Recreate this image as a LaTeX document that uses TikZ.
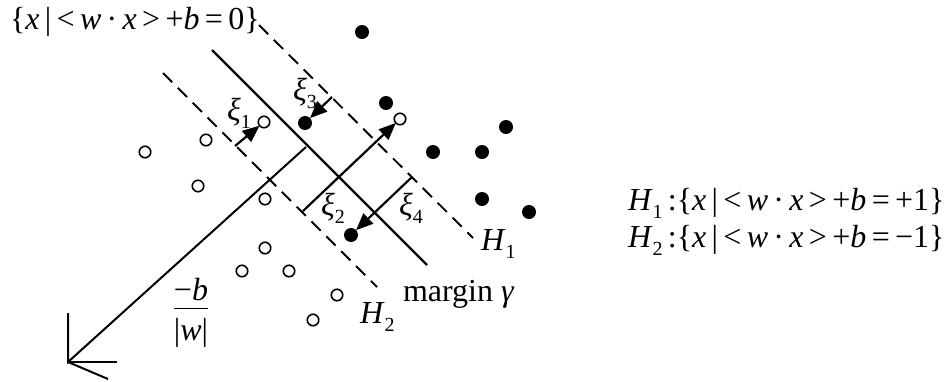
\documentclass[tikz,border=0pt]{standalone}
\usepackage{fontspec}
\setmainfont{Liberation Serif}
\usetikzlibrary{arrows.meta}
\newcommand\vi[1]{\textit{#1}}
\newcommand\subs[1]{\raisebox{-8pt}{\fontsize{20}{20}\selectfont #1}}
\begin{document}
\begin{tikzpicture}[x=1pt,y=-1pt,
  every node/.style={inner sep=0pt,outer sep=0pt},
  txt/.style={font=\fontsize{32}{38}\selectfont},
  rtxt/.style={font=\fontsize{32}{38}\selectfont},
  opendot/.style={circle,draw,line width=1.6pt,minimum size=11.5pt},
  fulldot/.style={circle,fill,minimum size=14pt},
  hyper/.style={line width=2.2pt},
  margline/.style={line width=1.9pt,dash pattern=on 13pt off 8pt},
  slack/.style={line width=2.2pt,-{Triangle[length=17pt,width=14pt]}},
  axis/.style={line width=2pt}]
\useasboundingbox (0,0) rectangle (946,381);
% hyperplanes
\coordinate (c1) at (212,50);  \coordinate (c2) at (427,265);
\coordinate (h2a) at (163,73); \coordinate (h2b) at (377,287);
\coordinate (h1a) at (259,25); \coordinate (h1b) at (473,238);
\draw[hyper] (c1) -- (c2);
\draw[margline] (h2a) -- (h2b);
\draw[margline] (h1a) -- (h1b);
% open circles
\foreach \n/\p in {o1/{(145,152)},o2/{(206,140)},o3/{(264,122)},o4/{(198,186)},o5/{(265,199)},o6/{(265,248)},o7/{(242,271)},o8/{(289,271)},o9/{(337,295)},o10/{(313,320)},o11/{(400,119)}}
  \node[opendot] (\n) at \p {};
% filled dots
\foreach \n/\p in {f1/{(362,32)},f2/{(386,103)},f3/{(305,123)},f4/{(433,152)},f5/{(482,152)},f6/{(506,127)},f7/{(482,199)},f8/{(529,212)},f9/{(351,235)}}
  \node[fulldot] (\n) at \p {};
% slack starts
\coordinate (s1) at (235,146);
\coordinate (s2) at (303,211);
\coordinate (s3) at (332,97);
\coordinate (s4) at (412,177);
\draw[slack] (s1) -- (o3);
\draw[slack] (s2) -- (o11);
\draw[slack] (s3) -- (f3);
\draw[slack] (s4) -- (f9);
% normal axis
\coordinate (ax0) at (68,362);
\coordinate (ax1) at (306,147);
\coordinate (axu) at (68,313);
\coordinate (axr) at (117,362);
\coordinate (axd) at (108,379);
\draw[axis] (ax1) -- (ax0) -- (axu);
\draw[axis] (ax0) -- (axr);
\draw[axis] (ax0) -- (axd);
% labels
\node[txt,anchor=base west] (top) at (10,29) {\{\vi{x}\,|\,<\,\vi{w}\,·\,\vi{x}\,>\,+\vi{b}\,=\,0\}};
\node[txt] (xi1) at (239,113) {\vi{ξ}\subs{1}};
\node[txt] (xi3) at (305,93) {\vi{ξ}\subs{3}};
\node[txt] (xi2) at (333,208) {\vi{ξ}\subs{2}};
\node[txt] (xi4) at (411,208) {\vi{ξ}\subs{4}};
\node[txt,anchor=base west] (lh1) at (481,250) {\vi{H}\subs{1}};
\node[txt,anchor=base west] (lh2) at (360,323) {\vi{H}\subs{2}};
\node[txt,anchor=base west] (mg) at (403,301) {margin \vi{γ}};
\node[txt] (frac) at (191,313) {\begin{tabular}{@{}c@{}}−\vi{b}\\[-4pt]\hline\rule{0pt}{32pt}|\vi{w}|\end{tabular}};
\node[rtxt,anchor=base west] (eq1) at (628,210) {\vi{H}\subs{1}\,:\{\vi{x}\,|\,<\,\vi{w}\,·\,\vi{x}\,>\,+\vi{b}\,=\,+1\}};
\node[rtxt,anchor=base west] (eq2) at (628,247) {\vi{H}\subs{2}\,:\{\vi{x}\,|\,<\,\vi{w}\,·\,\vi{x}\,>\,+\vi{b}\,=\,−1\}};
\end{tikzpicture}
\end{document}
